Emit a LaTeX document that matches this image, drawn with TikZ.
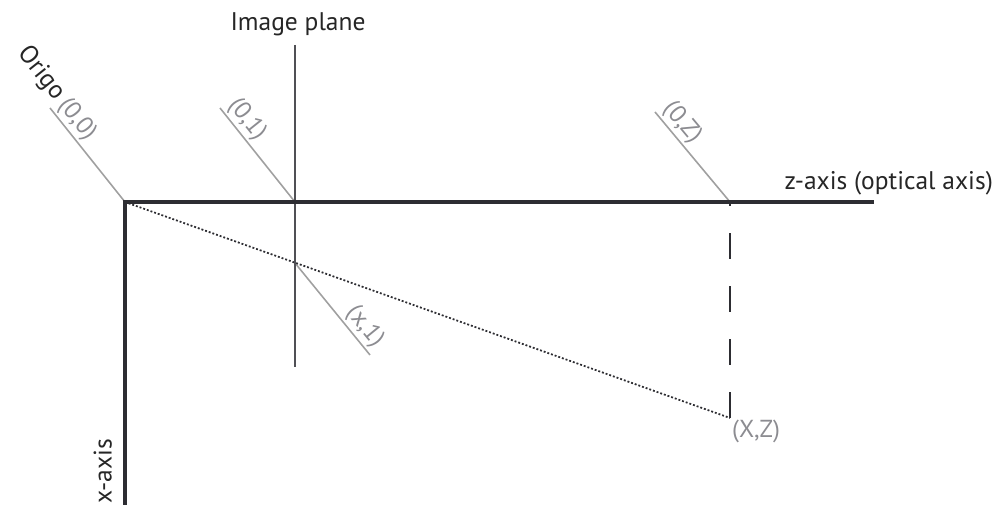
\documentclass[tikz,border=0pt]{standalone}
\usepackage{fontspec}
\setmainfont{PT Sans}
\usetikzlibrary{positioning,calc}
\definecolor{axiscolor}{RGB}{45,45,50}
\definecolor{planecolor}{RGB}{80,80,85}
\definecolor{labelcolor}{RGB}{140,140,145}
\definecolor{leadcolor}{RGB}{160,160,160}

\begin{document}
\begin{tikzpicture}[
  axis/.style={draw=axiscolor, line width=2.3pt},
  plane/.style={draw=planecolor, line width=1.3pt},
  leader/.style={draw=leadcolor, line width=0.9pt},
  ray/.style={draw=axiscolor, line width=1pt, dash pattern=on 1.1pt off 1.1pt},
  proj/.style={draw=axiscolor, line width=1.2pt, dash pattern=on 0.52cm off 0.54cm},
  coordlabel/.style={text=labelcolor, font=\fontsize{14}{16}\selectfont, inner sep=1pt},
  mainlabel/.style={text=black!85, font=\fontsize{14.5}{17}\selectfont, inner sep=1pt}
]
\useasboundingbox (0,0) rectangle (20,10.14);

% Points on the axes
\coordinate (origo) at (2.5,6.1);
\coordinate (zend) at (17.48,6.1);
\coordinate (xend) at (2.5,0.04);
\coordinate (planetop) at (5.9,9.24);
\coordinate (planebot) at (5.9,2.8);
\coordinate (onplane) at (5.9,4.88);
\coordinate (onaxis) at (5.9,6.1);
\coordinate (zpoint) at (14.6,6.1);
\coordinate (xz) at (14.6,1.78);

% Free ends of the leaders
\coordinate (lead00) at (1.0,7.98);
\coordinate (lead01) at (4.4,7.98);
\coordinate (lead0Z) at (13.1,7.9);
\coordinate (leadx1) at (7.4,3.04);

% Leaders with coordinate labels
\draw[leader] (lead00) -- (origo)
  node[at start, sloped, anchor=south west, coordlabel] (lab00) {(0,0)}
  node[at start, sloped, anchor=south east, mainlabel] (origolabel) {Origo};
\draw[leader] (lead01) -- (onaxis)
  node[at start, sloped, anchor=south west, coordlabel] (lab01) {(0,1)};
\draw[leader] (lead0Z) -- (zpoint)
  node[at start, sloped, anchor=south west, coordlabel] (lab0Z) {(0,Z)};
\draw[leader] (onplane) -- (leadx1)
  node[at end, sloped, anchor=south east, coordlabel] (labx1) {(x,1)};

% Ray and projection
\draw[ray] (origo) -- (xz);
\draw[proj] (xz) -- (zpoint);

% Image plane
\draw[plane] (planetop) -- (planebot);
\node[mainlabel, above=0.14cm] (planelabel) at (5.96,9.24) {Image plane};

% Axes
\draw[axis] (xend) -- (origo) -- (zend);
\node[mainlabel, anchor=south east] (zlabel) at (19.9,6.2) {z-axis (optical axis)};
\node[mainlabel, rotate=90, anchor=south] (xlabel) at (2.28,0.72) {x-axis};

% Point label
\node[coordlabel, anchor=north west] (labXZ) at (xz) {(X,Z)};

\end{tikzpicture}
\end{document}
